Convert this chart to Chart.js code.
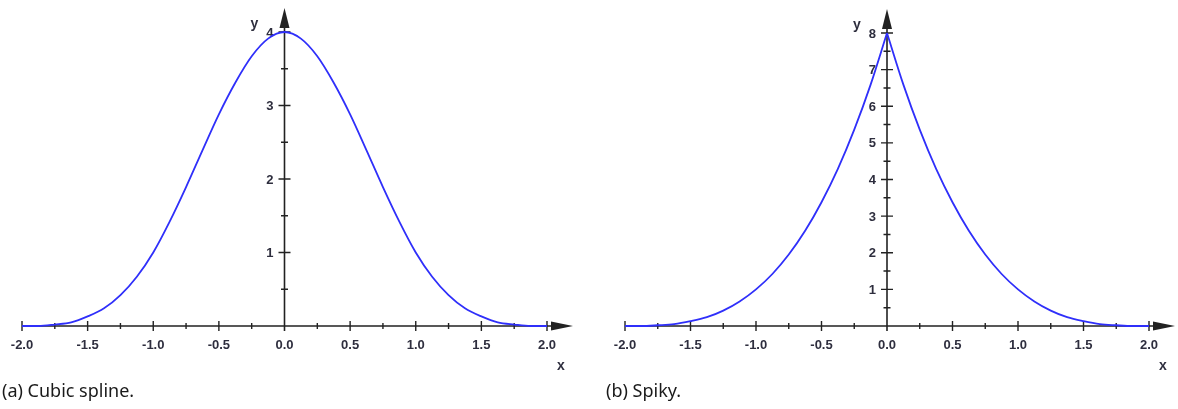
<!DOCTYPE html>
<html>
<head>
<meta charset="utf-8">
<script src="https://cdn.jsdelivr.net/npm/chart.js@4"></script>
<style>
    body { margin: 0; background: #fff; width: 1178px; height: 409px; overflow: hidden; position: relative; }
    canvas { position: absolute; top: 0; }
    .caption { position: absolute; top: 378px; font: 18px "Noto Sans", sans-serif; color: #1a1a1a; white-space: nowrap; }
</style>
</head>
<body>
<canvas id="cubic" width="589" height="409" style="left:0px"></canvas>
<canvas id="spiky" width="589" height="409" style="left:589px"></canvas>
<div class="caption" style="left:2px">(a) Cubic spline.</div>
<div class="caption" style="left:606px">(b) Spiky.</div>
<script>
const xValues = [
    -2, -1.875, -1.75, -1.625, -1.5, -1.375, -1.25, -1.125,
    -1, -0.875, -0.75, -0.625, -0.5, -0.375, -0.25, -0.125,
    0, 0.125, 0.25, 0.375, 0.5, 0.625, 0.75, 0.875,
    1, 1.125, 1.25, 1.375, 1.5, 1.625, 1.75, 1.875, 2
];
const cubicValues = [
    0, 0, 0.02, 0.05, 0.13, 0.24, 0.42, 0.67,
    1, 1.42, 1.89, 2.39, 2.88, 3.31, 3.67, 3.91,
    4, 3.91, 3.67, 3.31, 2.88, 2.39, 1.89, 1.42,
    1, 0.67, 0.42, 0.24, 0.13, 0.05, 0.02, 0, 0
];
const spikyValues = [
    0, 0, 0.02, 0.05, 0.13, 0.24, 0.42, 0.67,
    1, 1.42, 1.95, 2.6, 3.38, 4.29, 5.36, 6.59,
    8, 6.59, 5.36, 4.29, 3.38, 2.6, 1.95, 1.42,
    1, 0.67, 0.42, 0.24, 0.13, 0.05, 0.02, 0, 0
];

const xTicks = [-2, -1.5, -1, -0.5, 0.5, 1, 1.5, 2];
const xTickLabels = ["-2.0", "-1.5", "-1.0", "-0.5", "0.5", "1.0", "1.5", "2.0"];
const xMinorTicks = [-1.75, -1.25, -0.75, -0.25, 0.25, 0.75, 1.25, 1.75];
const cubicYTicks = [1, 2, 3, 4];
const cubicYMinor = [0.5, 1.5, 2.5, 3.5];
const spikyYTicks = [1, 2, 3, 4, 5, 6, 7, 8];
const spikyYMinor = [0.5, 1.5, 2.5, 3.5, 4.5, 5.5, 6.5, 7.5];

const LINE_BLUE = "#2f2ffa";
const AXIS = "#222";
const LABEL = "#2e2e3e";

function toPoints(from, to, values) {
    const pts = [];
    for (let i = from; i <= to; i++) pts.push({ x: xValues[i], y: values[i] });
    return pts;
}

// axes crossing at the origin, with arrows, drawn from the chart's own scales
const crossAxes = {
    id: "crossAxes",
    beforeDatasetsDraw(chart, args, opts) {
        const ctx = chart.ctx;
        const xs = chart.scales.x, ys = chart.scales.y;
        const x0 = xs.getPixelForValue(0), y0 = ys.getPixelForValue(0);
        const xl = xs.getPixelForValue(xs.min), xr = xs.getPixelForValue(xs.max);
        const yt = ys.getPixelForValue(ys.max);

        ctx.save();
        ctx.strokeStyle = AXIS;
        ctx.fillStyle = AXIS;
        ctx.lineWidth = 1.6;

        ctx.beginPath();
        ctx.moveTo(xl, y0);
        ctx.lineTo(xr + 8, y0);
        ctx.moveTo(x0, y0 + 5);
        ctx.lineTo(x0, yt - 6);
        ctx.stroke();

        // arrows
        ctx.beginPath();
        ctx.moveTo(xr + 4, y0 - 4.5);
        ctx.lineTo(xr + 26, y0);
        ctx.lineTo(xr + 4, y0 + 4.5);
        ctx.closePath();
        ctx.fill();
        ctx.beginPath();
        ctx.moveTo(x0 - 5, yt - 4);
        ctx.lineTo(x0, yt - 24);
        ctx.lineTo(x0 + 5, yt - 4);
        ctx.closePath();
        ctx.fill();

        ctx.lineWidth = 1.4;
        ctx.beginPath();
        xTicks.forEach(t => {
            const px = xs.getPixelForValue(t);
            ctx.moveTo(px, y0 - 5);
            ctx.lineTo(px, y0 + 5);
        });
        xMinorTicks.forEach(t => {
            const px = xs.getPixelForValue(t);
            ctx.moveTo(px, y0 - 3);
            ctx.lineTo(px, y0 + 3);
        });
        opts.yTicks.forEach(t => {
            const py = ys.getPixelForValue(t);
            ctx.moveTo(x0 - 6, py);
            ctx.lineTo(x0 + 6, py);
        });
        opts.yMinor.forEach(t => {
            const py = ys.getPixelForValue(t);
            ctx.moveTo(x0 - 3.5, py);
            ctx.lineTo(x0 + 3.5, py);
        });
        ctx.stroke();

        ctx.fillStyle = LABEL;
        ctx.font = "bold 13px 'Liberation Sans', Arial, sans-serif";
        ctx.textAlign = "center";
        ctx.textBaseline = "middle";
        xTicks.forEach((t, i) => {
            ctx.fillText(xTickLabels[i], xs.getPixelForValue(t), y0 + 19);
        });
        ctx.fillText("0.0", x0, y0 + 19);
        ctx.textAlign = "right";
        opts.yTicks.forEach(t => {
            ctx.fillText(String(t), x0 - 11, ys.getPixelForValue(t) + 1);
        });

        ctx.font = "bold 14px 'Liberation Sans', Arial, sans-serif";
        ctx.textAlign = "center";
        ctx.fillText("y", x0 - 30, yt - 8);
        ctx.fillText("x", xr + 14, y0 + 40);
        ctx.restore();
    }
};

function makeChart(id, datasets, yMax, yTicks, yMinor, padding) {
    return new Chart(document.getElementById(id), {
        type: "line",
        data: { datasets },
        options: {
            responsive: false,
            animation: false,
            layout: { padding },
            scales: {
                x: { type: "linear", min: -2, max: 2, display: false },
                y: { type: "linear", min: 0, max: yMax, display: false }
            },
            plugins: {
                legend: { display: false },
                tooltip: { enabled: false },
                crossAxes: { yTicks, yMinor }
            },
            elements: { point: { radius: 0 } }
        },
        plugins: [crossAxes]
    });
}

function curve(points) {
    return {
        data: points,
        borderColor: LINE_BLUE,
        borderWidth: 1.8,
        cubicInterpolationMode: "monotone",
        fill: false,
        clip: false
    };
}

makeChart("cubic",
    [curve(toPoints(0, 32, cubicValues))],
    4, cubicYTicks, cubicYMinor,
    { left: 22, right: 42, top: 32, bottom: 83 });

makeChart("spiky",
    [curve(toPoints(0, 16, spikyValues)), curve(toPoints(16, 32, spikyValues))],
    8, spikyYTicks, spikyYMinor,
    { left: 36, right: 29, top: 33, bottom: 83 });
</script>
</body>
</html>
